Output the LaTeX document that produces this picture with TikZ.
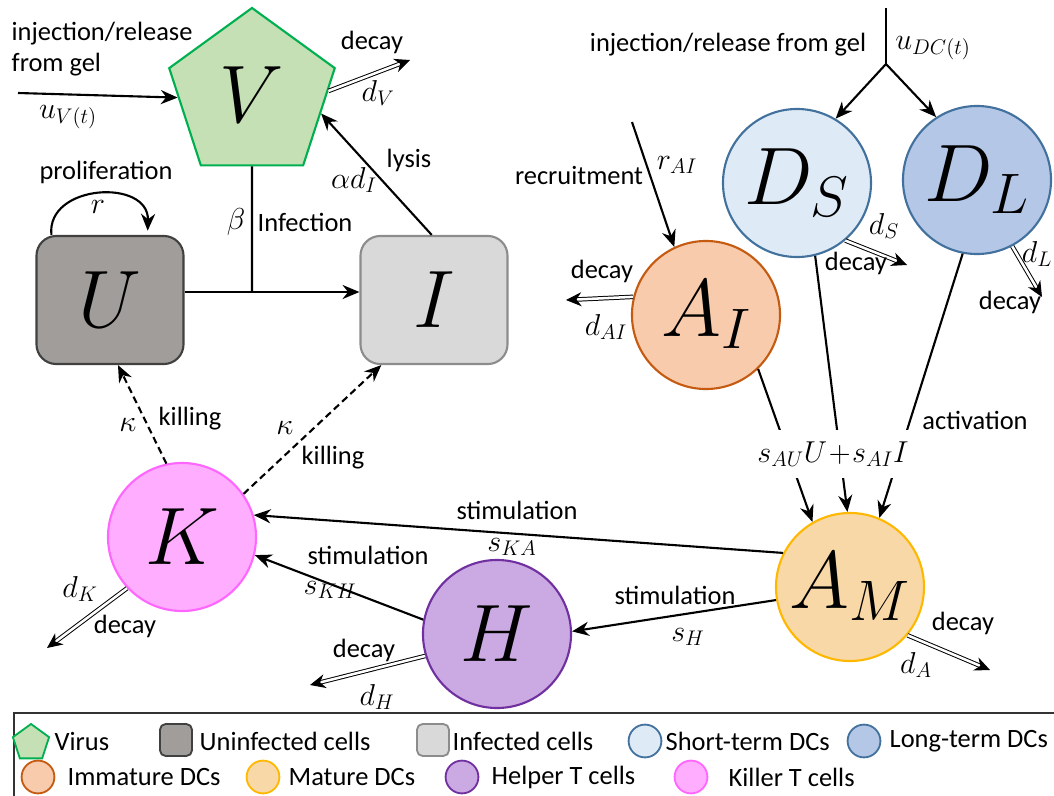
\documentclass[tikz,border=0pt]{standalone}
\usepackage{fix-cm}
\usepackage[no-math]{fontspec}
\setmainfont{Carlito}
\usetikzlibrary{shapes.geometric,arrows.meta}

\definecolor{Vfill}{HTML}{C5E0B4}  \definecolor{Vline}{HTML}{00B050}
\definecolor{Ufill}{HTML}{A19D9B}  \definecolor{Uline}{HTML}{404040}
\definecolor{Ifill}{HTML}{D9D9D9}  \definecolor{Iline}{HTML}{8C8C8C}
\definecolor{DSfill}{HTML}{DEEBF7} \definecolor{DLfill}{HTML}{B4C7E7}
\definecolor{DCline}{HTML}{41719C}
\definecolor{AIfill}{HTML}{F8CBAD} \definecolor{AIline}{HTML}{C55A11}
\definecolor{AMfill}{HTML}{F9D8A8} \definecolor{AMline}{HTML}{FFB800}
\definecolor{Hfill}{HTML}{CBA9E2}  \definecolor{Hline}{HTML}{7030A0}
\definecolor{Kfill}{HTML}{FFADFF}  \definecolor{Kline}{HTML}{FF66FF}

\tikzset{
  bigtext/.style={font=\fontsize{58}{60}\selectfont},
  cell/.style={circle,line width=1.5pt,minimum size=3.7cm,inner sep=0pt,bigtext},
  cellbox/.style={rectangle,rounded corners=14pt,line width=1.5pt,
                  minimum width=3.675cm,minimum height=3.2cm,inner sep=0pt,bigtext},
  pent/.style={regular polygon,regular polygon sides=5,minimum size=4.35cm,inner sep=0pt,
               line width=1.5pt,fill=Vfill,draw=Vline,bigtext},
  lbl/.style={font=\fontsize{18.8}{22}\selectfont,inner sep=1pt},
  mlbl/.style={font=\fontsize{21.5}{24}\selectfont,inner sep=1pt},
  flow/.style={line width=1.5pt,-{Stealth[length=12pt,width=10pt]}},
  kill/.style={flow,dashed,dash pattern=on 5pt off 3pt},
  decayarrow/.style={double,double distance=1.8pt,line width=0.7pt,
                     -{Stealth[length=11pt,width=10pt]}},
  legendcell/.style={circle,line width=1.3pt,minimum size=0.82cm,inner sep=0pt},
}

\begin{document}
\begin{tikzpicture}[x=0.025cm,y=-0.025cm]
    \useasboundingbox (0,0) rectangle (1054,796);

    % compartments
    \node [pent] (V) at (252,95) {$V$};
    \node [cellbox,fill=Ufill,draw=Uline] (U) at (110,300) {$U$};
    \node [cellbox,fill=Ifill,draw=Iline] (I) at (434,300) {$I$};
    \node [cell,fill=DSfill,draw=DCline] (DS) at (797,183) {$D_S$};
    \node [cell,fill=DLfill,draw=DCline] (DL) at (977,180) {$D_L$};
    \node [cell,fill=AIfill,draw=AIline] (AI) at (706,315) {$A_I$};
    \node [cell,fill=AMfill,draw=AMline] (AM) at (850,587) {$A_M$};
    \node [cell,fill=Kfill,draw=Kline] (K) at (182,537) {$K$};
    \node [cell,fill=Hfill,draw=Hline] (H) at (497,634) {$H$};

    % free ends
    \coordinate (injsrc) at (18,93);
    \coordinate (Vout) at (410,60);
    \coordinate (inf) at (252,292);
    \coordinate (dctop) at (886,8);
    \coordinate (dcfork) at (886,64);
    \coordinate (recsrc) at (632,122);
    \coordinate (AIout) at (566,300);
    \coordinate (DSout) at (907,265);
    \coordinate (DLout) at (1042,297);
    \coordinate (AMout) at (990,670);
    \coordinate (Hout) at (310,685);
    \coordinate (Kout) at (47,648);

    % virus and infection
    \draw [flow] (injsrc) -- (V.182);
    \node [lbl,align=left,anchor=west] (injV) at (10,49) {injection/release\\from gel};
    \node [mlbl] (uV) at (68,117) {$u_{V(t)}$};
    \draw [decayarrow] (V.3) -- (Vout);
    \node [lbl] (decV) at (372,42) {decay};
    \node [mlbl] (dV) at (378,93) {$d_V$};
    \draw [line width=1.5pt] (V.south) -- (inf);
    \draw [flow] (U.east |- inf) -- (I.west |- inf);
    \node [mlbl] (beta) at (236,222) {$\beta$};
    \node [lbl] (infect) at (305,222) {Infection};
    \draw [flow,shorten >=3pt] (U.132) .. controls (46,184) and (149,178) .. (U.60);
    \node [lbl] (prol) at (106,172) {proliferation};
    \node [mlbl] (rU) at (98,207) {$r$};
    \draw [flow] (I.92) -- (V.-15);
    \node [mlbl] (alpha) at (354,180) {$\alpha d_I$};
    \node [lbl] (lysis) at (409,160) {lysis};

    % killing
    \draw [kill] (K.102) -- (U.-83);
    \node [mlbl] (kapU) at (128,425) {$\kappa$};
    \node [lbl] (killU) at (190,419) {killing};
    \draw [kill] (K.35) -- (I.231);
    \node [mlbl] (kapI) at (285,428) {$\kappa$};
    \node [lbl] (killI) at (333,458) {killing};

    % stimulation
    \draw [flow] (AM.153) -- (K.17);
    \node [lbl] (stimK) at (517,510) {stimulation};
    \node [mlbl] (sKA) at (512,547) {$s_{KA}$};
    \draw [flow] (H.169) -- (K.-14);
    \node [lbl] (stimH) at (368,555) {stimulation};
    \node [mlbl] (sKH) at (330,590) {$s_{KH}$};
    \draw [flow] (AM.190) -- (H.2);
    \node [lbl] (stimAH) at (675,595) {stimulation};
    \node [mlbl] (sH) at (688,637) {$s_H$};

    % decay of cells
    \draw [decayarrow] (H.197) -- (Hout);
    \node [lbl] (decH) at (364,650) {decay};
    \node [mlbl] (dH) at (377,697) {$d_H$};
    \draw [decayarrow] (K.223) -- (Kout);
    \node [mlbl] (dK) at (80,589) {$d_K$};
    \node [lbl] (decK) at (125,626) {decay};
    \draw [decayarrow] (AM.-40) -- (AMout);
    \node [lbl] (decAM) at (963,623) {decay};
    \node [mlbl] (dA) at (916,665) {$d_A$};
    \draw [decayarrow] (AI.166) -- (AIout);
    \node [lbl] (decAI) at (602,271) {decay};
    \node [mlbl] (dAI) at (606,327) {$d_{AI}$};
    \draw [decayarrow] (DS.-50) -- (DSout);
    \node [mlbl] (dS) at (884,226) {$d_S$};
    \node [lbl] (decS) at (856,263) {decay};
    \draw [decayarrow] (DL.-62) -- (DLout);
    \node [mlbl] (dL) at (1037,254) {$d_L$};
    \node [lbl] (decL) at (1010,302) {decay};

    % dendritic cells
    \draw [flow] (recsrc) -- (AI.115);
    \node [lbl] (recr) at (579,175) {recruitment};
    \node [mlbl] (rAI) at (677,165) {$r_{AI}$};
    \draw [line width=1.5pt] (dctop) -- (dcfork);
    \draw [flow] (dcfork) -- (DS.59);
    \draw [flow] (dcfork) -- (DL.123);
    \node [lbl] (injDC) at (728,45) {injection/release from gel};
    \node [mlbl] (uDC) at (933,48) {$u_{DC(t)}$};

    % activation
    \draw [flow] (AI.-46) -- (AM.120);
    \draw [flow] (DS.-76) -- (AM.92);
    \draw [flow] (DL.-101) -- (AM.67);
    \node [mlbl,fill=white,inner xsep=3pt,inner ysep=8pt] (sAct) at (833,454) {$s_{AU}U\!+\!s_{AI}I$};
    \node [lbl] (act) at (975,420) {activation};

    % legend
    \draw [line width=1.3pt,black!80] (14,713) rectangle (1070,812);
    \node [regular polygon,regular polygon sides=5,minimum size=0.95cm,inner sep=0pt,
           line width=1.3pt,fill=Vfill,draw=Vline] (lgV) at (31,743) {};
    \node [lbl,anchor=west] (lgVt) at (53,741) {Virus};
    \node [rectangle,rounded corners=4pt,minimum size=0.8cm,line width=1.3pt,
           fill=Ufill,draw=Uline] (lgU) at (176,740) {};
    \node [lbl,anchor=west] (lgUt) at (198,741) {Uninfected cells};
    \node [rectangle,rounded corners=4pt,minimum size=0.8cm,line width=1.3pt,
           fill=Ifill,draw=Iline] (lgI) at (433,740) {};
    \node [lbl,anchor=west] (lgIt) at (451,741) {Infected cells};
    \foreach \name/\x/\y/\tx/\fc/\lc/\txt in {lgDS/645/741/664/DSfill/DCline/Short-term DCs,
                                           lgDL/864/741/888/DLfill/DCline/Long-term DCs,
                                           lgAI/38/777/66/AIfill/AIline/Immature DCs,
                                           lgAM/263/777/287/AMfill/AMline/Mature DCs,
                                           lgH/462/777/490/Hfill/Hline/Helper T cells,
                                           lgK/691/777/727/Kfill/Kline/Killer T cells}
    {
        \node [legendcell,fill=\fc,draw=\lc] (\name) at (\x,\y) {};
        \node [lbl,anchor=west] (\name t) at (\tx,\y) {\txt};
    }
\end{tikzpicture}
\end{document}
